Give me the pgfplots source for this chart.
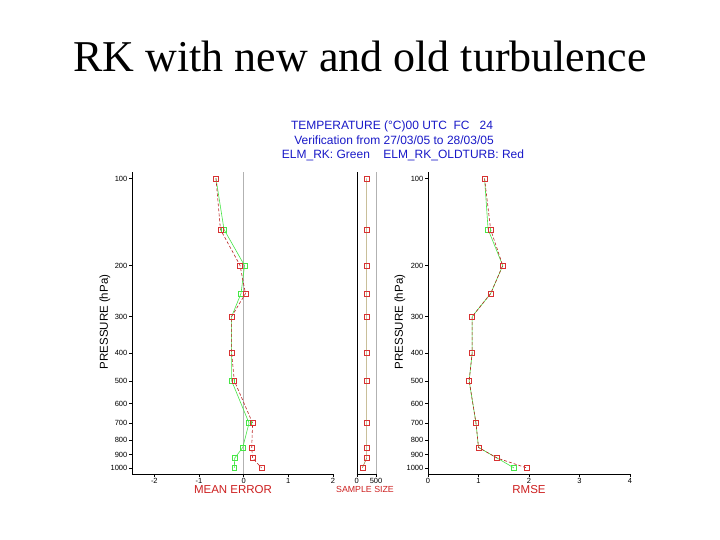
\documentclass[border=0pt]{standalone}
\usepackage{pgfplots}
\pgfplotsset{compat=1.18}
\usepackage{fontspec}
\setmainfont{Liberation Serif}
\newfontfamily\arial{Liberation Sans}
\definecolor{hdrblue}{RGB}{25,25,200}
\definecolor{lblred}{RGB}{205,30,30}
\definecolor{ngreen}{RGB}{70,230,70}
\definecolor{dred}{RGB}{185,35,35}
\definecolor{mred}{RGB}{215,50,50}

\begin{document}
\begin{tikzpicture}
\path[fill=white] (0pt,0pt) rectangle (720pt,540pt);
\node[anchor=base] at (360pt,468pt) {\fontsize{44}{50}\selectfont RK with new and old turbulence};
\node[anchor=base, text=hdrblue, font=\arial\fontsize{12}{14}\selectfont] at (392pt,410pt) {TEMPERATURE (°C)00 UTC\ \ FC\ \ \ 24};
\node[anchor=base, text=hdrblue, font=\arial\fontsize{12}{14}\selectfont] at (394pt,395pt) {Verification from 27/03/05 to 28/03/05};
\node[anchor=base, text=hdrblue, font=\arial\fontsize{12}{14}\selectfont] at (403pt,381pt) {ELM\_RK: Green\ \ \ \ ELM\_RK\_OLDTURB: Red};

% Mean error
\begin{axis}[scale only axis, height=302pt, width=201pt,
    at={(132pt,66pt)}, anchor=south west,
    axis lines*=left,
    ymode=log, y dir=reverse, ymin=95, ymax=1050,
    ytick={100,200,300,400,500,600,700,800,900,1000},
    yticklabels={100,200,300,400,500,600,700,800,900,1000},
    yminorticks=false,
    tick align=outside, major tick length=3pt,
    tick style={black, thin},
    axis line style={black, thin},
    ticklabel style={font=\arial\fontsize{7.5}{8}\selectfont, inner sep=1.5pt},
    /pgf/number format/assume math mode=true,
    clip=false,
  xmin=-2.5, xmax=2, xtick={-2,-1,0,1,2}, xticklabels={-2,-1,0,1,2}]
\addplot[gray!60, thin, forget plot] coordinates {(0,95) (0,1050)};
\addplot[ngreen, line width=0.6pt, mark=square, mark size=2.4pt, mark options={solid}] coordinates {(-0.62,100) (-0.44,150) (0.02,200) (-0.06,250) (-0.27,300) (-0.27,400) (-0.27,500) (0.12,700) (-0.02,850) (-0.20,925) (-0.21,1000)};
\addplot[dred, line width=0.6pt, densely dashed, mark=square, mark size=2.4pt, mark options={solid, mred}] coordinates {(-0.62,100) (-0.52,150) (-0.08,200) (0.04,250) (-0.27,300) (-0.27,400) (-0.21,500) (0.20,700) (0.18,850) (0.20,925) (0.40,1000)};
\end{axis}

% Sample size
\begin{axis}[scale only axis, height=302pt, width=19.3pt,
    at={(356.7pt,66pt)}, anchor=south west,
    axis lines*=left,
    ymode=log, y dir=reverse, ymin=95, ymax=1050,
    ytick=\empty,
    yminorticks=false,
    tick align=outside, major tick length=3pt,
    tick style={black, thin},
    axis line style={black, thin},
    ticklabel style={font=\arial\fontsize{7.5}{8}\selectfont, inner sep=1.5pt},
    /pgf/number format/assume math mode=true,
    clip=false,
  xmin=0, xmax=500, xtick={0,500}, xticklabels={0,500}]
\addplot[gray!60, thin, forget plot] coordinates {(500,95) (500,1050)};
\addplot[ngreen, thin, mark=square, mark size=2.4pt] coordinates {(260,100) (260,150) (260,200) (260,250) (260,300) (260,400) (260,500) (260,700) (260,850) (260,925) (145,1000)};
\addplot[mred!80, thin, mark=square, mark size=2.4pt, mark options={mred}] coordinates {(260,100) (260,150) (260,200) (260,250) (260,300) (260,400) (260,500) (260,700) (260,850) (260,925) (145,1000)};
\end{axis}

% RMSE
\begin{axis}[scale only axis, height=302pt, width=202pt,
    at={(428pt,66pt)}, anchor=south west,
    axis lines*=left,
    ymode=log, y dir=reverse, ymin=95, ymax=1050,
    ytick={100,200,300,400,500,600,700,800,900,1000},
    yticklabels={100,200,300,400,500,600,700,800,900,1000},
    yminorticks=false,
    tick align=outside, major tick length=3pt,
    tick style={black, thin},
    axis line style={black, thin},
    ticklabel style={font=\arial\fontsize{7.5}{8}\selectfont, inner sep=1.5pt},
    /pgf/number format/assume math mode=true,
    clip=false,
  xmin=0, xmax=4, xtick={0,1,2,3,4}, xticklabels={0,1,2,3,4}]
\addplot[ngreen, line width=0.6pt, mark=square, mark size=2.4pt, mark options={solid}] coordinates {(1.12,100) (1.19,150) (1.48,200) (1.24,250) (0.875,300) (0.875,400) (0.815,500) (0.95,700) (1.0,850) (1.37,925) (1.70,1000)};
\addplot[dred, line width=0.6pt, densely dashed, mark=square, mark size=2.4pt, mark options={solid, mred}] coordinates {(1.12,100) (1.24,150) (1.48,200) (1.24,250) (0.875,300) (0.875,400) (0.815,500) (0.95,700) (1.0,850) (1.37,925) (1.95,1000)};
\end{axis}

% axis labels
\node[rotate=90, font=\arial\fontsize{11.5}{13}\selectfont] at (105pt,218pt) {PRESSURE (hPa)};
\node[rotate=90, font=\arial\fontsize{11.5}{13}\selectfont] at (400pt,218pt) {PRESSURE (hPa)};
\node[text=lblred, font=\arial\fontsize{11.5}{13}\selectfont] at (233pt,50pt) {MEAN ERROR};
\node[text=lblred, font=\arial\fontsize{8.8}{10}\selectfont] at (365pt,51pt) {SAMPLE SIZE};
\node[text=lblred, font=\arial\fontsize{11.5}{13}\selectfont] at (529pt,50pt) {RMSE};
\end{tikzpicture}
\end{document}
